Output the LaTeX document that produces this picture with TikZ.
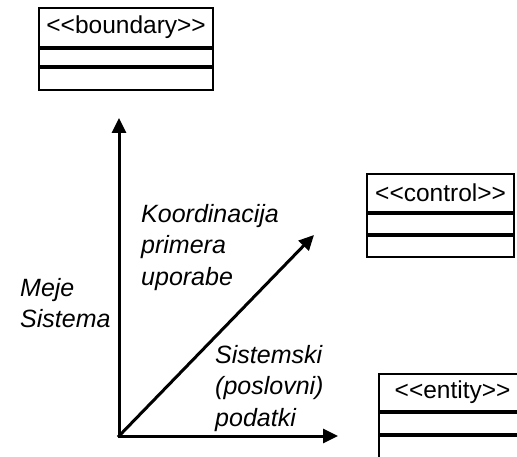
\documentclass[tikz,border=0pt]{standalone}
\usepackage{fontspec}
\setmainfont{Liberation Sans}[Ligatures=TeXOff]
\usetikzlibrary{arrows.meta, positioning}

\begin{document}
\begin{tikzpicture}[x=1pt, y=-1pt]
    % styles
    \tikzstyle{razred} = [rectangle, draw, line width=2.2pt, inner sep=0pt, font=\fontsize{24.5}{28}\selectfont]
    \tikzstyle{predal} = [rectangle, draw, line width=2.2pt, inner sep=0pt]
    \tikzstyle{oznaka} = [anchor=north west, inner sep=0pt, align=left, font=\fontsize{25}{31.5}\selectfont\itshape]
    \tikzstyle{puscica} = [line width=3pt, line cap=rect, -{Triangle[length=15pt, width=14pt]}]

    \useasboundingbox (0,0) rectangle (517,457);
    \clip (0,0) rectangle (517,457);

    % classes
    \node (boundary) [razred, anchor=north west, minimum width=174pt, minimum height=38.8pt] at (38,7) {<<boundary>>};
    \node (boundarySred) [predal, minimum width=174pt, minimum height=16.6pt, below=0pt of boundary] {};
    \node (boundaryDno) [predal, minimum width=174pt, minimum height=21.8pt, below=0pt of boundarySred] {};

    \node (control) [razred, anchor=north west, minimum width=147pt, minimum height=37.8pt] at (366,173) {<<control>>};
    \node (controlSred) [predal, minimum width=147pt, minimum height=19.8pt, below=0pt of control] {};
    \node (controlDno) [predal, minimum width=147pt, minimum height=20.8pt, below=0pt of controlSred] {};

    \node (entity) [razred, anchor=north west, minimum width=147pt, minimum height=36.8pt] at (378,373) {<<entity>>};
    \node (entitySred) [predal, minimum width=147pt, minimum height=20.8pt, below=0pt of entity] {};
    \node (entityDno) [predal, minimum width=147pt, minimum height=26pt, below=0pt of entitySred] {};

    % axes
    \coordinate (izhodisce) at (119,436);
    \coordinate (meje) at (119,118);
    \coordinate (koordinacija) at (314,235);
    \coordinate (podatki) at (338,436);

    \draw [puscica] (izhodisce) -- (meje);
    \draw [puscica] (izhodisce) -- (koordinacija);
    \draw [puscica] (izhodisce) -- (podatki);

    % labels
    \node (mejeOznaka) [oznaka] at (20,278) {Meje\\Sistema};
    \node (koordOznaka) [oznaka] at (141,204) {Koordinacija\\primera\\uporabe};
    \node (podatkiOznaka) [oznaka] at (215,345) {Sistemski\\(poslovni)\\podatki};
\end{tikzpicture}
\end{document}
